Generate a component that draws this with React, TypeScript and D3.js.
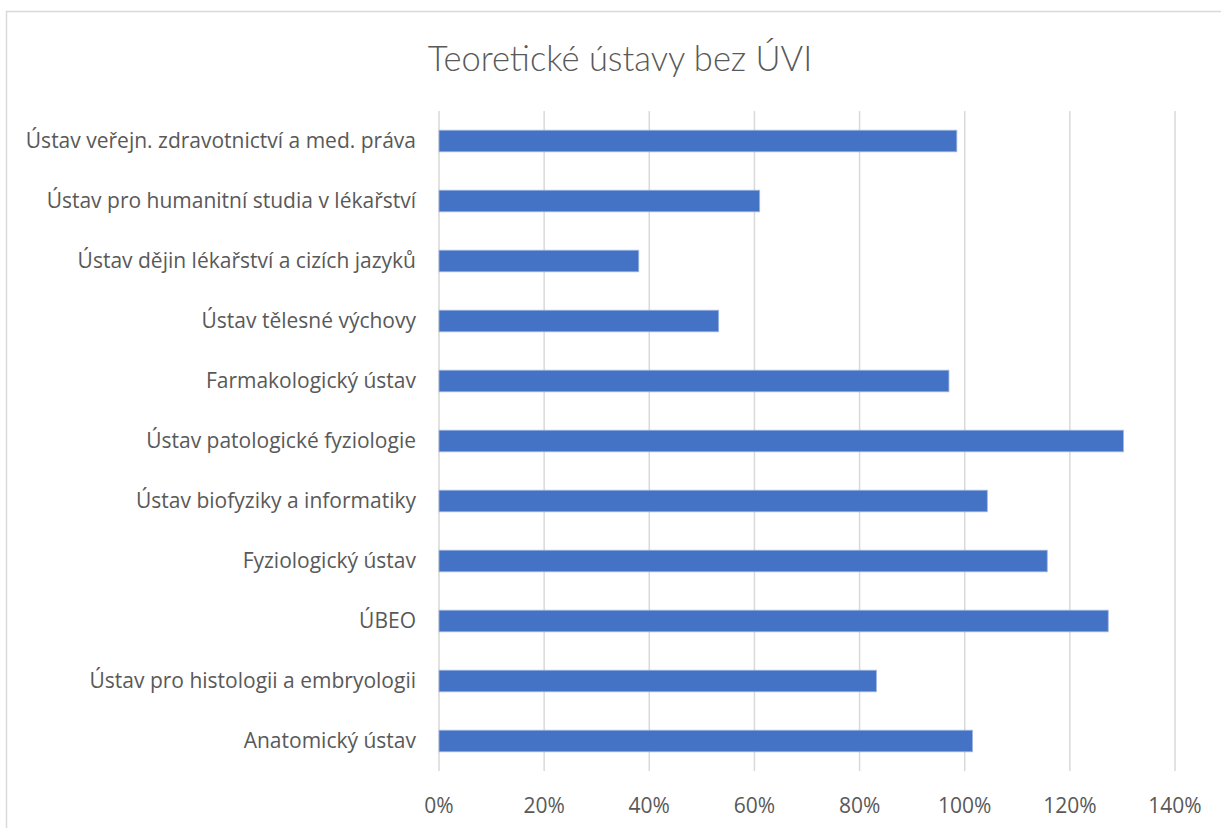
import React, { useEffect, useRef } from "react";
import * as d3 from "d3";

const title = "Teoretické ústavy bez ÚVI";

const categories = [
  "Ústav veřejn. zdravotnictví a med. práva",
  "Ústav pro humanitní studia v lékařství",
  "Ústav dějin lékařství a cizích jazyků",
  "Ústav tělesné výchovy",
  "Farmakologický ústav",
  "Ústav patologické fyziologie",
  "Ústav biofyziky a informatiky",
  "Fyziologický ústav",
  "ÚBEO",
  "Ústav pro histologii a embryologii",
  "Anatomický ústav",
];

const values = [0.985, 0.61, 0.38, 0.532, 0.97, 1.302, 1.043, 1.157, 1.273, 0.832, 1.015];

const ticks = [0, 0.2, 0.4, 0.6, 0.8, 1.0, 1.2, 1.4];

const App = () => {
  const ref = useRef<SVGSVGElement>(null);

  useEffect(() => {
    const width = 1221, height = 828;
    const margin = { top: 111, right: 46, bottom: 57, left: 439 };
    const font = "Lato, 'Open Sans', sans-serif";
    const labelFont = "'Open Sans', Lato, sans-serif";
    const textColor = "#595959";

    const svg = d3.select(ref.current);
    svg.selectAll("*").remove();
    svg.attr("width", width).attr("height", height);

    // chart area frame (right and bottom edges fall outside the picture)
    svg.append("rect")
      .attr("x", 6.5).attr("y", 11.5)
      .attr("width", width + 20).attr("height", height + 20)
      .attr("fill", "white")
      .attr("stroke", "#d9d9d9")
      .attr("stroke-width", 1.5);

    svg.append("text")
      .attr("x", 620).attr("y", 71)
      .attr("text-anchor", "middle")
      .style("font-family", font)
      .style("font-weight", 300)
      .style("font-size", "34.5px")
      .style("fill", textColor)
      .text(title);

    const x = d3.scaleLinear().domain([0, 1.4]).range([margin.left, width - margin.right]);
    const y = d3.scaleBand().domain(categories)
      .range([margin.top, height - margin.bottom])
      .paddingInner(0.64).paddingOuter(0.32);

    const grid = svg.append("g");
    grid.selectAll("line")
      .data(ticks)
      .enter()
      .append("line")
      .attr("x1", d => x(d)).attr("x2", d => x(d))
      .attr("y1", margin.top).attr("y2", height - margin.bottom)
      .attr("stroke", "#d9d9d9")
      .attr("stroke-width", 1.5);

    svg.append("g").selectAll("rect")
      .data(values)
      .enter()
      .append("rect")
      .attr("x", x(0))
      .attr("y", (d, i) => y(categories[i])!)
      .attr("width", d => x(d) - x(0))
      .attr("height", y.bandwidth())
      .attr("fill", "#4472c4")
      .attr("stroke", "#9fb7e2")
      .attr("stroke-width", 0.8);

    const fmt = d3.format(".0%");
    svg.append("g").selectAll("text")
      .data(ticks)
      .enter()
      .append("text")
      .attr("x", d => x(d))
      .attr("y", height - margin.bottom + 42)
      .attr("text-anchor", "middle")
      .style("font-family", labelFont)
      .style("font-size", "21px")
      .style("fill", textColor)
      .text(d => fmt(d));

    svg.append("g").selectAll("text")
      .data(categories)
      .enter()
      .append("text")
      .attr("x", margin.left - 23)
      .attr("y", d => y(d)! + y.bandwidth() / 2)
      .attr("dy", "0.35em")
      .attr("text-anchor", "end")
      .style("font-family", labelFont)
      .style("font-size", "21px")
      .style("fill", textColor)
      .text(d => d);
  }, []);

  return (
    <svg ref={ref} style={{ position: "absolute", left: 0, top: 0, display: "block" }} />
  );
};

export default App;
